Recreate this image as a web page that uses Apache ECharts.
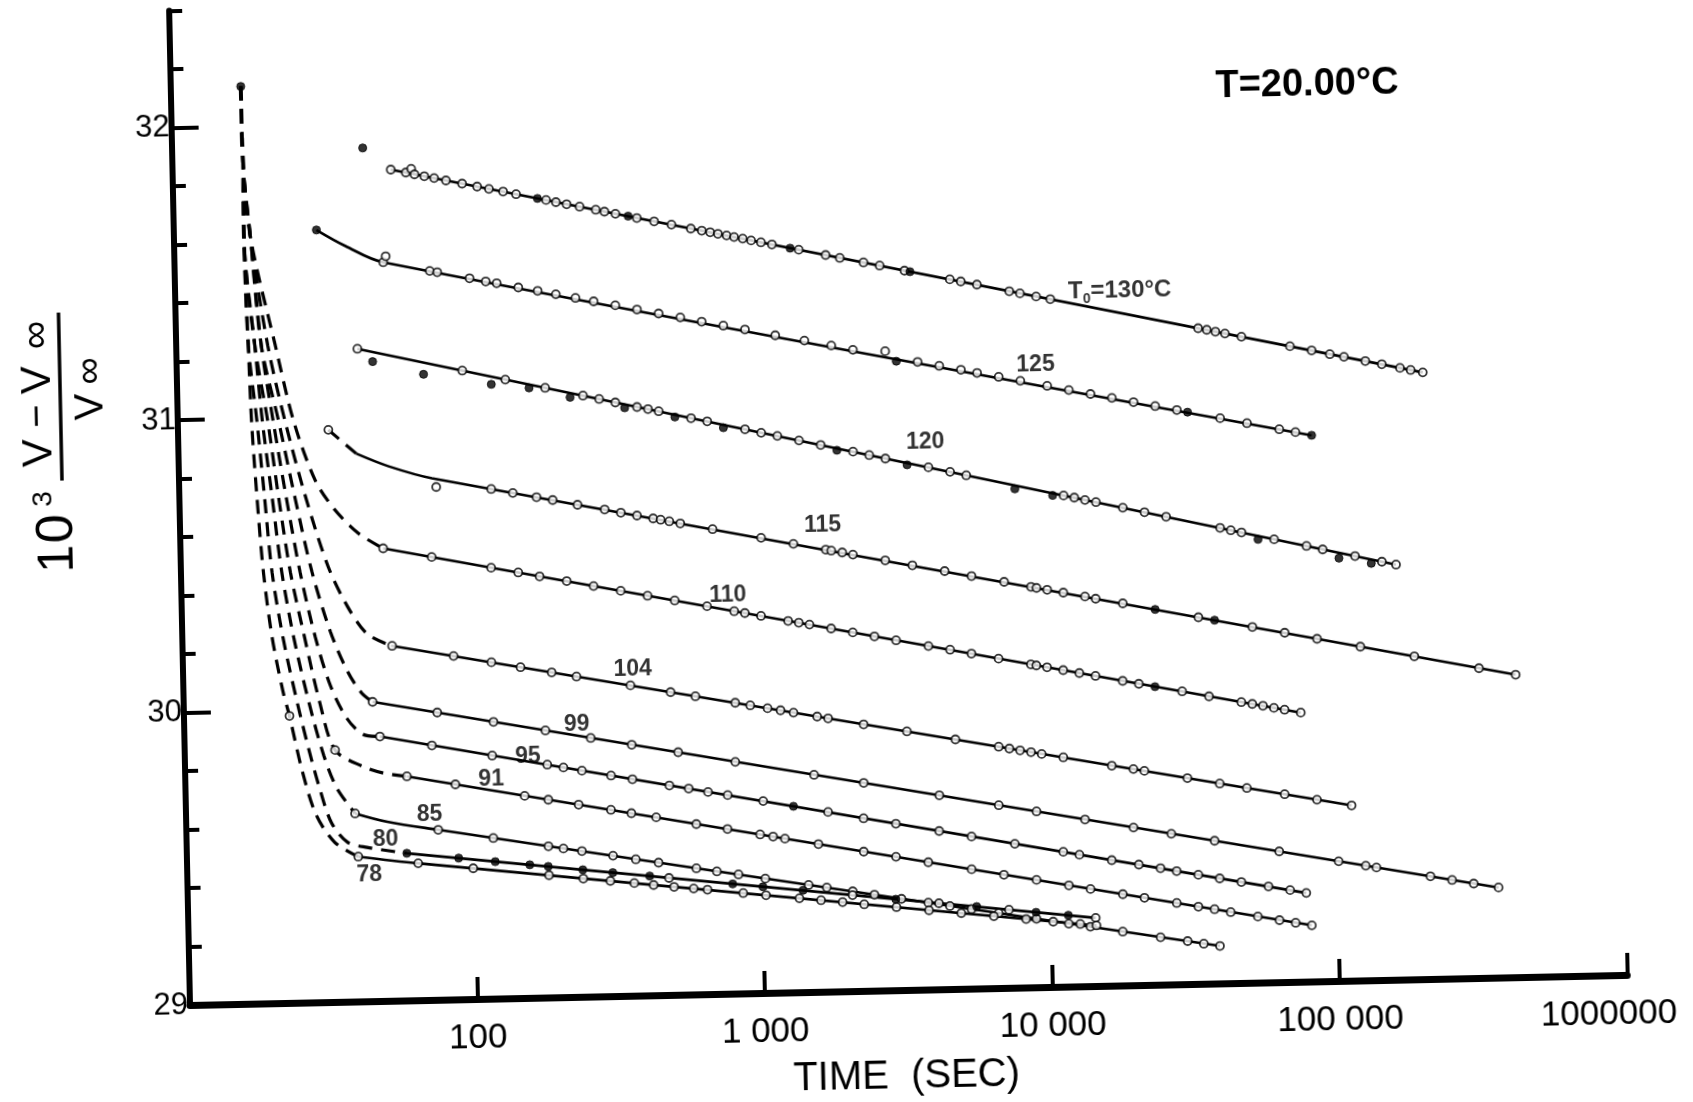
<!DOCTYPE html>
<html><head><meta charset="utf-8">
<script src="https://cdn.jsdelivr.net/npm/echarts@6/dist/echarts.min.js"></script>
<style>
html,body{margin:0;padding:0;background:#fff;overflow:hidden;width:1693px;height:1102px}
#wrap{position:absolute;left:0;top:0;width:1760px;height:1160px;transform:rotate(-1.2deg);transform-origin:190px 1005px}
</style></head><body><div id="wrap"></div>
<script>
// All x values are log10(time in seconds); y values are 10^3 (V - Vinf)/Vinf
const xTickLabels = {2:'100',3:'1 000',4:'10 000',5:'100 000',6:'1000000'};
const yTickLabels = [29,30,31,32];

// fitted (solid) curves
const fit130 = [[1.759,31.841],[5.333,31.074]];
const fit125 = [[1.496,31.640],[1.596,31.583],[1.726,31.525],[4.942,30.867]];
const fit120 = [[1.630,31.231],[5.226,30.419]];
const fit115 = [[1.618,30.873],[1.730,30.827],[1.880,30.783],[5.634,30.034]];
const fit110 = [[1.705,30.547],[4.884,29.920]];
const fit104 = [[1.725,30.214],[5.054,29.599]];
const fit99  = [[1.657,30.023],[5.559,29.308]];
const fit95  = [[1.680,29.904],[4.890,29.303]];
const fit91  = [[1.771,29.766],[4.907,29.192]];
const fit85  = [[1.588,29.643],[1.700,29.612],[1.876,29.581],[4.586,29.128]];
const fit80  = [[1.765,29.503],[4.156,29.233]];
const fit78  = [[1.596,29.495],[1.804,29.468],[4.158,29.207]];

// dashed early-time curves (all leave the same first reading)
const dash78 = [[1.2434,32.136],[1.2454,31.878],[1.2436,31.619],[1.2508,31.250],[1.2566,30.991],[1.2698,30.733],[1.2869,30.474],[1.3122,30.252],[1.3458,30.067],[1.367,29.981],[1.408,29.789],[1.453,29.640],[1.515,29.546],[1.596,29.495]];
const dash80 = [[1.2434,32.136],[1.2454,31.878],[1.2436,31.619],[1.2508,31.250],[1.2753,30.991],[1.2961,30.732],[1.3169,30.473],[1.3498,30.251],[1.3905,30.047],[1.4282,29.880],[1.4664,29.732],[1.5052,29.613],[1.560,29.545],[1.627,29.526],[1.765,29.503]];
const dash85 = [[1.2434,32.136],[1.2454,31.878],[1.2436,31.619],[1.2733,31.250],[1.2941,30.991],[1.3224,30.732],[1.3507,30.473],[1.3873,30.250],[1.4351,30.028],[1.4838,29.842],[1.5265,29.731],[1.588,29.643]];
const dash91 = [[1.2434,32.136],[1.2454,31.878],[1.2436,31.619],[1.2733,31.250],[1.3129,30.990],[1.3449,30.731],[1.3807,30.472],[1.4249,30.250],[1.4727,30.027],[1.523,29.861],[1.618,29.803],[1.689,29.779],[1.771,29.766]];
const dash95 = [[1.2434,32.136],[1.2454,31.878],[1.2662,31.619],[1.2959,31.249],[1.3317,30.990],[1.3712,30.731],[1.4145,30.471],[1.4624,30.249],[1.5114,30.082],[1.5654,29.970],[1.6205,29.913],[1.680,29.904]];
const dash99 = [[1.2434,32.136],[1.2454,31.878],[1.2662,31.619],[1.2959,31.249],[1.3505,30.990],[1.4013,30.730],[1.4558,30.471],[1.5154,30.266],[1.5726,30.128],[1.6198,30.054],[1.657,30.023]];
const dash104 = [[1.2434,32.136],[1.2454,31.878],[1.2662,31.619],[1.3184,31.249],[1.3730,30.989],[1.4388,30.729],[1.5126,30.488],[1.5772,30.350],[1.6429,30.256],[1.725,30.214]];
const dash110 = [[1.2434,32.136],[1.2454,31.878],[1.2662,31.619],[1.3447,31.248],[1.4030,30.988],[1.4738,30.784],[1.5393,30.683],[1.6202,30.600],[1.705,30.547]];
const dash115 = [[1.523,30.956],[1.618,30.873]];

// measured points: open circles
const obs130 = [[1.759,31.841],[1.811,31.830],[1.830,31.842],[1.841,31.823],[1.875,31.816],[1.909,31.809],[1.950,31.800],[2.006,31.788],[2.058,31.777],[2.099,31.768],[2.148,31.758],[2.193,31.748],[2.297,31.726],[2.331,31.718],[2.368,31.710],[2.413,31.701],[2.469,31.689],[2.499,31.682],[2.537,31.674],[2.611,31.658],[2.671,31.645],[2.731,31.633],[2.798,31.618],[2.836,31.610],[2.865,31.604],[2.892,31.598],[2.922,31.592],[2.948,31.586],[2.978,31.580],[3.007,31.573],[3.041,31.566],[3.079,31.558],[3.172,31.538],[3.265,31.518],[3.314,31.507],[3.396,31.490],[3.452,31.478],[3.538,31.459],[3.695,31.426],[3.733,31.418],[3.789,31.406],[3.901,31.381],[3.938,31.373],[3.994,31.361],[4.043,31.351],[4.555,31.241],[4.585,31.235],[4.615,31.228],[4.648,31.221],[4.705,31.209],[4.873,31.173],[4.948,31.157],[5.011,31.143],[5.060,31.133],[5.134,31.117],[5.191,31.105],[5.254,31.091],[5.291,31.083],[5.333,31.074]];
const obs125 = [[1.726,31.525],[1.735,31.545],[1.887,31.492],[1.913,31.487],[2.025,31.464],[2.081,31.452],[2.119,31.445],[2.194,31.429],[2.261,31.416],[2.324,31.403],[2.392,31.389],[2.455,31.376],[2.530,31.361],[2.605,31.345],[2.680,31.330],[2.755,31.315],[2.829,31.299],[2.904,31.284],[2.979,31.269],[3.084,31.247],[3.185,31.227],[3.278,31.208],[3.353,31.192],[3.465,31.185],[3.577,31.146],[3.652,31.131],[3.727,31.116],[3.783,31.104],[3.858,31.089],[3.933,31.074],[4.026,31.055],[4.101,31.039],[4.176,31.024],[4.250,31.009],[4.325,30.993],[4.400,30.978],[4.475,30.963],[4.625,30.932],[4.718,30.913],[4.830,30.890],[4.886,30.879]];
const obs120 = [[1.630,31.231],[1.993,31.149],[2.142,31.115],[2.280,31.084],[2.411,31.055],[2.467,31.042],[2.523,31.029],[2.598,31.012],[2.636,31.004],[2.673,30.996],[2.785,30.970],[2.841,30.958],[2.972,30.928],[3.028,30.915],[3.084,30.903],[3.159,30.886],[3.234,30.869],[3.346,30.844],[3.402,30.831],[3.458,30.818],[3.607,30.785],[3.682,30.768],[3.738,30.755],[4.075,30.679],[4.112,30.671],[4.149,30.662],[4.187,30.654],[4.280,30.633],[4.355,30.616],[4.430,30.599],[4.617,30.557],[4.654,30.548],[4.691,30.540],[4.804,30.514],[4.916,30.489],[4.972,30.476],[5.084,30.451],[5.177,30.430],[5.226,30.419]];
const obs115 = [[1.523,30.956],[1.894,30.753],[2.085,30.742],[2.160,30.727],[2.242,30.711],[2.298,30.700],[2.384,30.682],[2.478,30.664],[2.534,30.652],[2.590,30.641],[2.646,30.630],[2.672,30.625],[2.702,30.619],[2.740,30.611],[2.852,30.589],[3.020,30.556],[3.132,30.533],[3.244,30.511],[3.263,30.507],[3.301,30.500],[3.338,30.492],[3.450,30.470],[3.544,30.451],[3.656,30.429],[3.749,30.410],[3.862,30.388],[3.955,30.369],[3.974,30.365],[4.011,30.358],[4.067,30.347],[4.142,30.332],[4.179,30.324],[4.273,30.306],[4.535,30.253],[4.722,30.216],[4.834,30.194],[4.946,30.171],[5.096,30.141],[5.283,30.104],[5.507,30.059],[5.634,30.034]];
const obs110 = [[1.705,30.547],[1.873,30.514],[2.079,30.473],[2.173,30.455],[2.247,30.440],[2.341,30.422],[2.434,30.403],[2.528,30.385],[2.621,30.366],[2.715,30.348],[2.827,30.326],[2.921,30.307],[2.958,30.300],[3.014,30.289],[3.108,30.270],[3.145,30.263],[3.182,30.256],[3.257,30.241],[3.332,30.226],[3.407,30.211],[3.482,30.196],[3.594,30.174],[3.669,30.160],[3.743,30.145],[3.837,30.126],[3.949,30.104],[3.968,30.100],[4.005,30.093],[4.061,30.082],[4.117,30.071],[4.173,30.060],[4.267,30.041],[4.323,30.030],[4.473,30.001],[4.566,29.982],[4.678,29.960],[4.716,29.953],[4.753,29.946],[4.791,29.938],[4.828,29.931],[4.884,29.920]];
const obs104 = [[1.729,30.213],[1.942,30.174],[2.073,30.150],[2.174,30.131],[2.282,30.111],[2.368,30.095],[2.555,30.061],[2.694,30.035],[2.780,30.019],[2.918,29.994],[2.970,29.984],[3.030,29.973],[3.075,29.965],[3.120,29.956],[3.202,29.941],[3.240,29.934],[3.363,29.911],[3.513,29.884],[3.681,29.853],[3.831,29.825],[3.868,29.818],[3.905,29.811],[3.943,29.804],[3.980,29.797],[4.055,29.784],[4.223,29.752],[4.298,29.739],[4.336,29.732],[4.485,29.704],[4.597,29.683],[4.691,29.666],[4.822,29.642],[4.934,29.621],[5.054,29.599]];
const obs99 = [[1.657,30.023],[1.881,29.982],[2.076,29.946],[2.256,29.913],[2.413,29.884],[2.555,29.858],[2.716,29.829],[2.914,29.792],[3.187,29.742],[3.359,29.711],[3.621,29.663],[3.827,29.625],[3.958,29.601],[4.126,29.570],[4.294,29.539],[4.425,29.515],[4.575,29.488],[4.799,29.447],[5.005,29.409],[5.099,29.392],[5.136,29.385],[5.323,29.351],[5.398,29.337],[5.473,29.323],[5.559,29.308]];
const obs95 = [[1.680,29.904],[1.860,29.870],[2.069,29.831],[2.260,29.796],[2.316,29.785],[2.380,29.773],[2.481,29.754],[2.555,29.740],[2.683,29.716],[2.750,29.704],[2.817,29.691],[2.885,29.679],[3.008,29.656],[3.233,29.614],[3.356,29.590],[3.468,29.569],[3.618,29.541],[3.730,29.520],[3.880,29.492],[4.048,29.461],[4.104,29.450],[4.216,29.429],[4.310,29.412],[4.385,29.398],[4.441,29.387],[4.516,29.373],[4.590,29.359],[4.665,29.345],[4.759,29.328],[4.834,29.314],[4.890,29.303]];
const obs91 = [[1.523,29.861],[1.771,29.766],[1.939,29.735],[2.179,29.691],[2.261,29.676],[2.366,29.657],[2.478,29.637],[2.549,29.624],[2.635,29.608],[2.774,29.582],[2.882,29.563],[2.995,29.542],[3.040,29.534],[3.081,29.526],[3.197,29.505],[3.354,29.476],[3.466,29.456],[3.578,29.435],[3.728,29.408],[3.840,29.387],[3.953,29.367],[4.065,29.346],[4.140,29.332],[4.252,29.312],[4.327,29.298],[4.439,29.278],[4.514,29.264],[4.570,29.254],[4.626,29.243],[4.720,29.226],[4.795,29.212],[4.851,29.202],[4.907,29.192]];
const obs85 = [[1.588,29.643],[1.876,29.581],[2.067,29.549],[2.258,29.517],[2.310,29.508],[2.374,29.498],[2.482,29.480],[2.561,29.466],[2.640,29.453],[2.771,29.431],[2.842,29.419],[2.917,29.407],[3.010,29.391],[3.160,29.366],[3.223,29.356],[3.313,29.341],[3.388,29.328],[3.482,29.312],[3.575,29.297],[3.650,29.284],[3.725,29.272],[3.819,29.256],[3.950,29.234],[4.062,29.215],[4.137,29.203],[4.249,29.184],[4.380,29.162],[4.474,29.147],[4.530,29.137],[4.586,29.128]];
const obs80 = [[2.675,29.400],[3.312,29.328],[3.612,29.294],[3.855,29.267],[4.156,29.233]];
const obs78 = [[1.367,29.981],[1.596,29.495],[1.804,29.468],[1.995,29.447],[2.258,29.418],[2.377,29.404],[2.471,29.394],[2.554,29.385],[2.621,29.377],[2.692,29.369],[2.760,29.362],[2.808,29.357],[2.932,29.343],[3.011,29.334],[3.127,29.321],[3.202,29.313],[3.277,29.305],[3.352,29.296],[3.464,29.284],[3.577,29.271],[3.689,29.259],[3.802,29.246],[3.914,29.234],[4.008,29.223],[4.102,29.213],[4.158,29.207]];

// measured points: filled circles
const fill130 = [[1.663,31.917],[2.267,31.732],[2.581,31.665],[3.142,31.544],[3.557,31.455]];
const fill125 = [[1.496,31.640],[3.503,31.150],[4.512,30.955],[4.942,30.867]];
const fill120 = [[1.682,31.186],[1.858,31.139],[2.093,31.100],[2.224,31.085],[2.366,31.050],[2.555,31.010],[2.729,30.975],[2.897,30.935],[3.290,30.850],[3.533,30.795],[3.906,30.705],[4.037,30.680],[4.748,30.515],[5.028,30.445],[5.140,30.425]];
const fill115 = [[4.385,30.283],[4.591,30.242]];
const fill110 = [[4.379,30.019]];
const fill95 = [[3.113,29.636]];
const fill80 = [[1.765,29.503],[1.945,29.483],[2.072,29.468],[2.192,29.455],[2.256,29.448],[2.376,29.434],[2.480,29.422],[2.608,29.408],[2.896,29.375],[3.001,29.363],[3.140,29.348],[3.462,29.311],[3.743,29.280],[3.949,29.256],[4.061,29.244]];
const fillStart = [[1.2434,32.136]];

// curve labels (text, log10 t, y)
const curveLabelText = ['125','120','115','110','104','99','95','91','85','80','78'];
const curveLabelPos = [[3.987,31.127],[3.598,30.870],[3.235,30.593],[2.900,30.363],[2.564,30.115],[2.365,29.931],[2.193,29.824],[2.064,29.749],[1.847,29.632],[1.692,29.550],[1.633,29.433]];
const topLabelPos = [4.285,31.376];

const FONT = '"Liberation Sans", Arial, sans-serif';
const toXY = a => a.map(p => [Math.pow(10, p[0]), p[1]]);

const fits = [fit130,fit125,fit120,fit115,fit110,fit104,fit99,fit95,fit91,fit85,fit80,fit78];
const dashes = [dash78,dash80,dash85,dash91,dash95,dash99,dash104,dash110,dash115];
const opens = [obs130,obs125,obs120,obs115,obs110,obs104,obs99,obs95,obs91,obs85,obs80,obs78];
const fills = [fill130,fill125,fill120,fill115,fill110,fill95,fill80,fillStart];

const series = [];
fits.forEach(f => series.push({type:'line', data: toXY(f), symbol:'none', smooth: f.length > 2 ? 0.35 : false,
  lineStyle:{color:'#000', width:2.6}, z:2, silent:true}));
dashes.forEach(d => series.push({type:'line', data: toXY(d), symbol:'none', smooth: 0.3,
  lineStyle:{color:'#000', width:3.2, type:[14,9]}, z:2, silent:true}));
opens.forEach(o => series.push({type:'scatter', data: toXY(o), symbol:'circle', symbolSize:8,
  itemStyle:{color:'#fff', borderColor:'#000', borderWidth:1.8}, z:3, silent:true}));
fills.forEach(o => series.push({type:'scatter', data: toXY(o), symbol:'circle', symbolSize:8,
  itemStyle:{color:'#000', borderColor:'#000', borderWidth:1}, z:4, silent:true}));
series.push({type:'scatter', symbolSize:0, silent:true, z:5, itemStyle:{color:'#000'},
  data: curveLabelPos.map((p,i) => ({value:[Math.pow(10,p[0]), p[1]], name: curveLabelText[i]})),
  label:{show:true, position:'inside', formatter: p => p.name, fontSize:23, fontWeight:'bold', color:'#000', textBorderWidth:0, fontFamily:FONT}});
series.push({type:'scatter', symbolSize:0, silent:true, z:5, itemStyle:{color:'#000'},
  data: [{value:[Math.pow(10, topLabelPos[0]), topLabelPos[1]]}],
  label:{show:true, position:'inside', formatter:'{a|T}{b|0}{a|=130°C}', color:'#000', textBorderWidth:0,
    rich:{a:{fontSize:24, fontWeight:'bold', fontFamily:FONT, lineHeight:30, color:'#000', textBorderWidth:0}, b:{fontSize:14, fontWeight:'bold', fontFamily:FONT, lineHeight:14, verticalAlign:'bottom', color:'#000', textBorderWidth:0}}}});

const t = (x, y, s, size) => ({type:'text', x:x, y:y, style:{text:s, font:size + 'px ' + FONT, fill:'#000', align:'center', verticalAlign:'middle'}});

const chart = echarts.init(document.getElementById('wrap'), null, {renderer:'canvas'});
chart.setOption({
  animation:false,
  backgroundColor:'transparent',
  grid:{left:190, top:10.5, width:1437.5, height:994.5, containLabel:false},
  xAxis:{type:'log', logBase:10, min:10, max:1000000,
    axisLine:{show:true, lineStyle:{color:'#000', width:7}},
    axisTick:{show:true, inside:true, length:22, lineStyle:{color:'#000', width:4}},
    axisLabel:{fontSize:35, color:'#000', fontFamily:FONT, margin:22,
      formatter: v => { const k = Math.round(Math.log10(v)); const s = xTickLabels[k] || ''; return k === 6 ? '{r|' + s + '}' : s; },
      rich:{r:{fontSize:35, color:'#000', fontFamily:FONT, padding:[0,38,0,0]}}},
    splitLine:{show:false}, minorTick:{show:false}},
  yAxis:[
    {type:'value', min:29, max:32.4, interval:0.2, position:'left',
      axisLine:{show:true, lineStyle:{color:'#000', width:6}},
      axisTick:{show:true, inside:true, length:13, lineStyle:{color:'#000', width:4}},
      axisLabel:{customValues: yTickLabels, formatter: v => String(Math.round(v)), fontSize:31, color:'#000', fontFamily:FONT, margin:2},
      splitLine:{show:false}},
    {type:'value', min:29, max:32.4, position:'left', offset:0,
      axisLine:{show:false},
      axisTick:{show:true, inside:true, length:27, customValues:[30,31,32], lineStyle:{color:'#000', width:4}},
      axisLabel:{show:false}, splitLine:{show:false}}
  ],
  graphic:[
    {type:'text', x:1326, y:109, style:{text:'T=20.00°C', font:'bold 38px ' + FONT, fill:'#000', align:'center', verticalAlign:'middle'}},
    {type:'text', x:905, y:1092, style:{text:'TIME  (SEC)', font:'40px ' + FONT, fill:'#000', align:'center', verticalAlign:'middle'}},
    {type:'group', x:73, y:477, rotation:Math.PI/2, children:[
      t(-79, -5, '1', 50), t(-49, -5, '0', 52), t(-19, -19, '3', 28),
      t(27, -22, 'V', 42), t(64, -22, '−', 40), t(100, -22, 'V', 42), t(145, -22, '∞', 40),
      {type:'line', shape:{x1:-1, y1:0, x2:167, y2:0}, style:{stroke:'#000', lineWidth:3.5}},
      t(72, 31, 'V', 40), t(108, 31, '∞', 38)
    ]}
  ],
  series: series
});
</script></body></html>
